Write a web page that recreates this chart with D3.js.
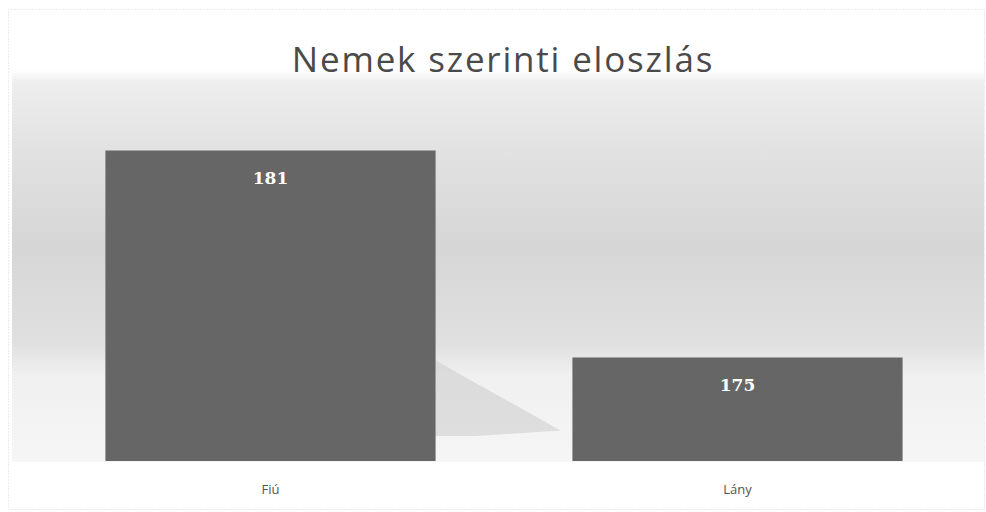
<!DOCTYPE html>
<html><head><meta charset="utf-8">
<script src="https://cdn.jsdelivr.net/npm/d3@7"></script>
<style>html,body{margin:0;padding:0;background:#fff;}svg{display:block;}</style>
</head><body>
<script>
const title = "Nemek szerinti eloszlás";
const categories = ["Fiú", "Lány"];
const values = [181, 175];
const yDomain = [172, 182];

const W = 986, H = 512;
const margin = {left: 37, right: 15, top: 116, bottom: 51};
const svg = d3.select("body").append("svg").attr("width", W).attr("height", H);

const defs = svg.append("defs");
const bg = defs.append("linearGradient").attr("id","bg").attr("x1",0).attr("y1",0).attr("x2",0).attr("y2",1);
[[0,"#ffffff"],[0.03,"#eeeeee"],[0.2,"#e2e2e2"],[0.45,"#d6d6d6"],[0.7,"#e0e0e0"],[0.78,"#f0f0f0"],[1,"#f6f6f6"]]
  .forEach(([o,c])=>bg.append("stop").attr("offset",o).attr("stop-color",c));

// scan border
svg.append("rect").attr("x",8.5).attr("y",9.5).attr("width",W-10).attr("height",H-12)
  .attr("fill","none").attr("stroke","#d8d8d8").attr("stroke-dasharray","1,2");

// plot background band
svg.append("rect").attr("x",12).attr("y",70).attr("width",W-14).attr("height",392).attr("fill","url(#bg)");

const x = d3.scaleBand().domain(categories).range([margin.left, W - margin.right]).paddingInner(0.293).paddingOuter(0.1465);
const y = d3.scaleLinear().domain(yDomain).range([H - margin.bottom, margin.top]);

// shadow after first bar
const b0 = x(categories[0]) + x.bandwidth();
svg.append("path")
  .attr("d", `M${b0},${y(values[0]) + 210}L${b0 + 125},${y(values[0]) + 280}L${b0 + 40},${y(yDomain[0]) - 25}L${b0},${y(yDomain[0]) - 25}Z`)
  .attr("fill","#cfcfcf").attr("opacity",0.6);

svg.append("g").selectAll("rect").data(values).join("rect")
  .attr("x",(d,i)=>x(categories[i]))
  .attr("y",d=>y(d))
  .attr("width",x.bandwidth())
  .attr("height",d=>y(yDomain[0]) - y(d))
  .attr("fill","#666666");

svg.append("g").selectAll("text").data(values).join("text")
  .attr("x",(d,i)=>x(categories[i]) + x.bandwidth()/2)
  .attr("y",d=>y(d) + 33)
  .attr("text-anchor","middle")
  .attr("font-family","'DejaVu Serif', serif")
  .attr("font-weight","bold")
  .attr("font-size",17)
  .attr("fill","#ffffff")
  .text(d=>d);

const xAxis = svg.append("g").attr("transform",`translate(0,${y(yDomain[0])})`)
  .call(d3.axisBottom(x).tickSize(0).tickPadding(24));
xAxis.select(".domain").remove();
xAxis.selectAll("text").attr("font-family","'Open Sans', sans-serif").attr("font-size",13).attr("fill","#555");

svg.append("text").attr("x",503).attr("y",72).attr("text-anchor","middle")
  .attr("font-family","'Open Sans', sans-serif").attr("font-size",35).attr("letter-spacing",1.8).attr("fill","#4a4a4a")
  .text(title);
</script>
</body></html>
